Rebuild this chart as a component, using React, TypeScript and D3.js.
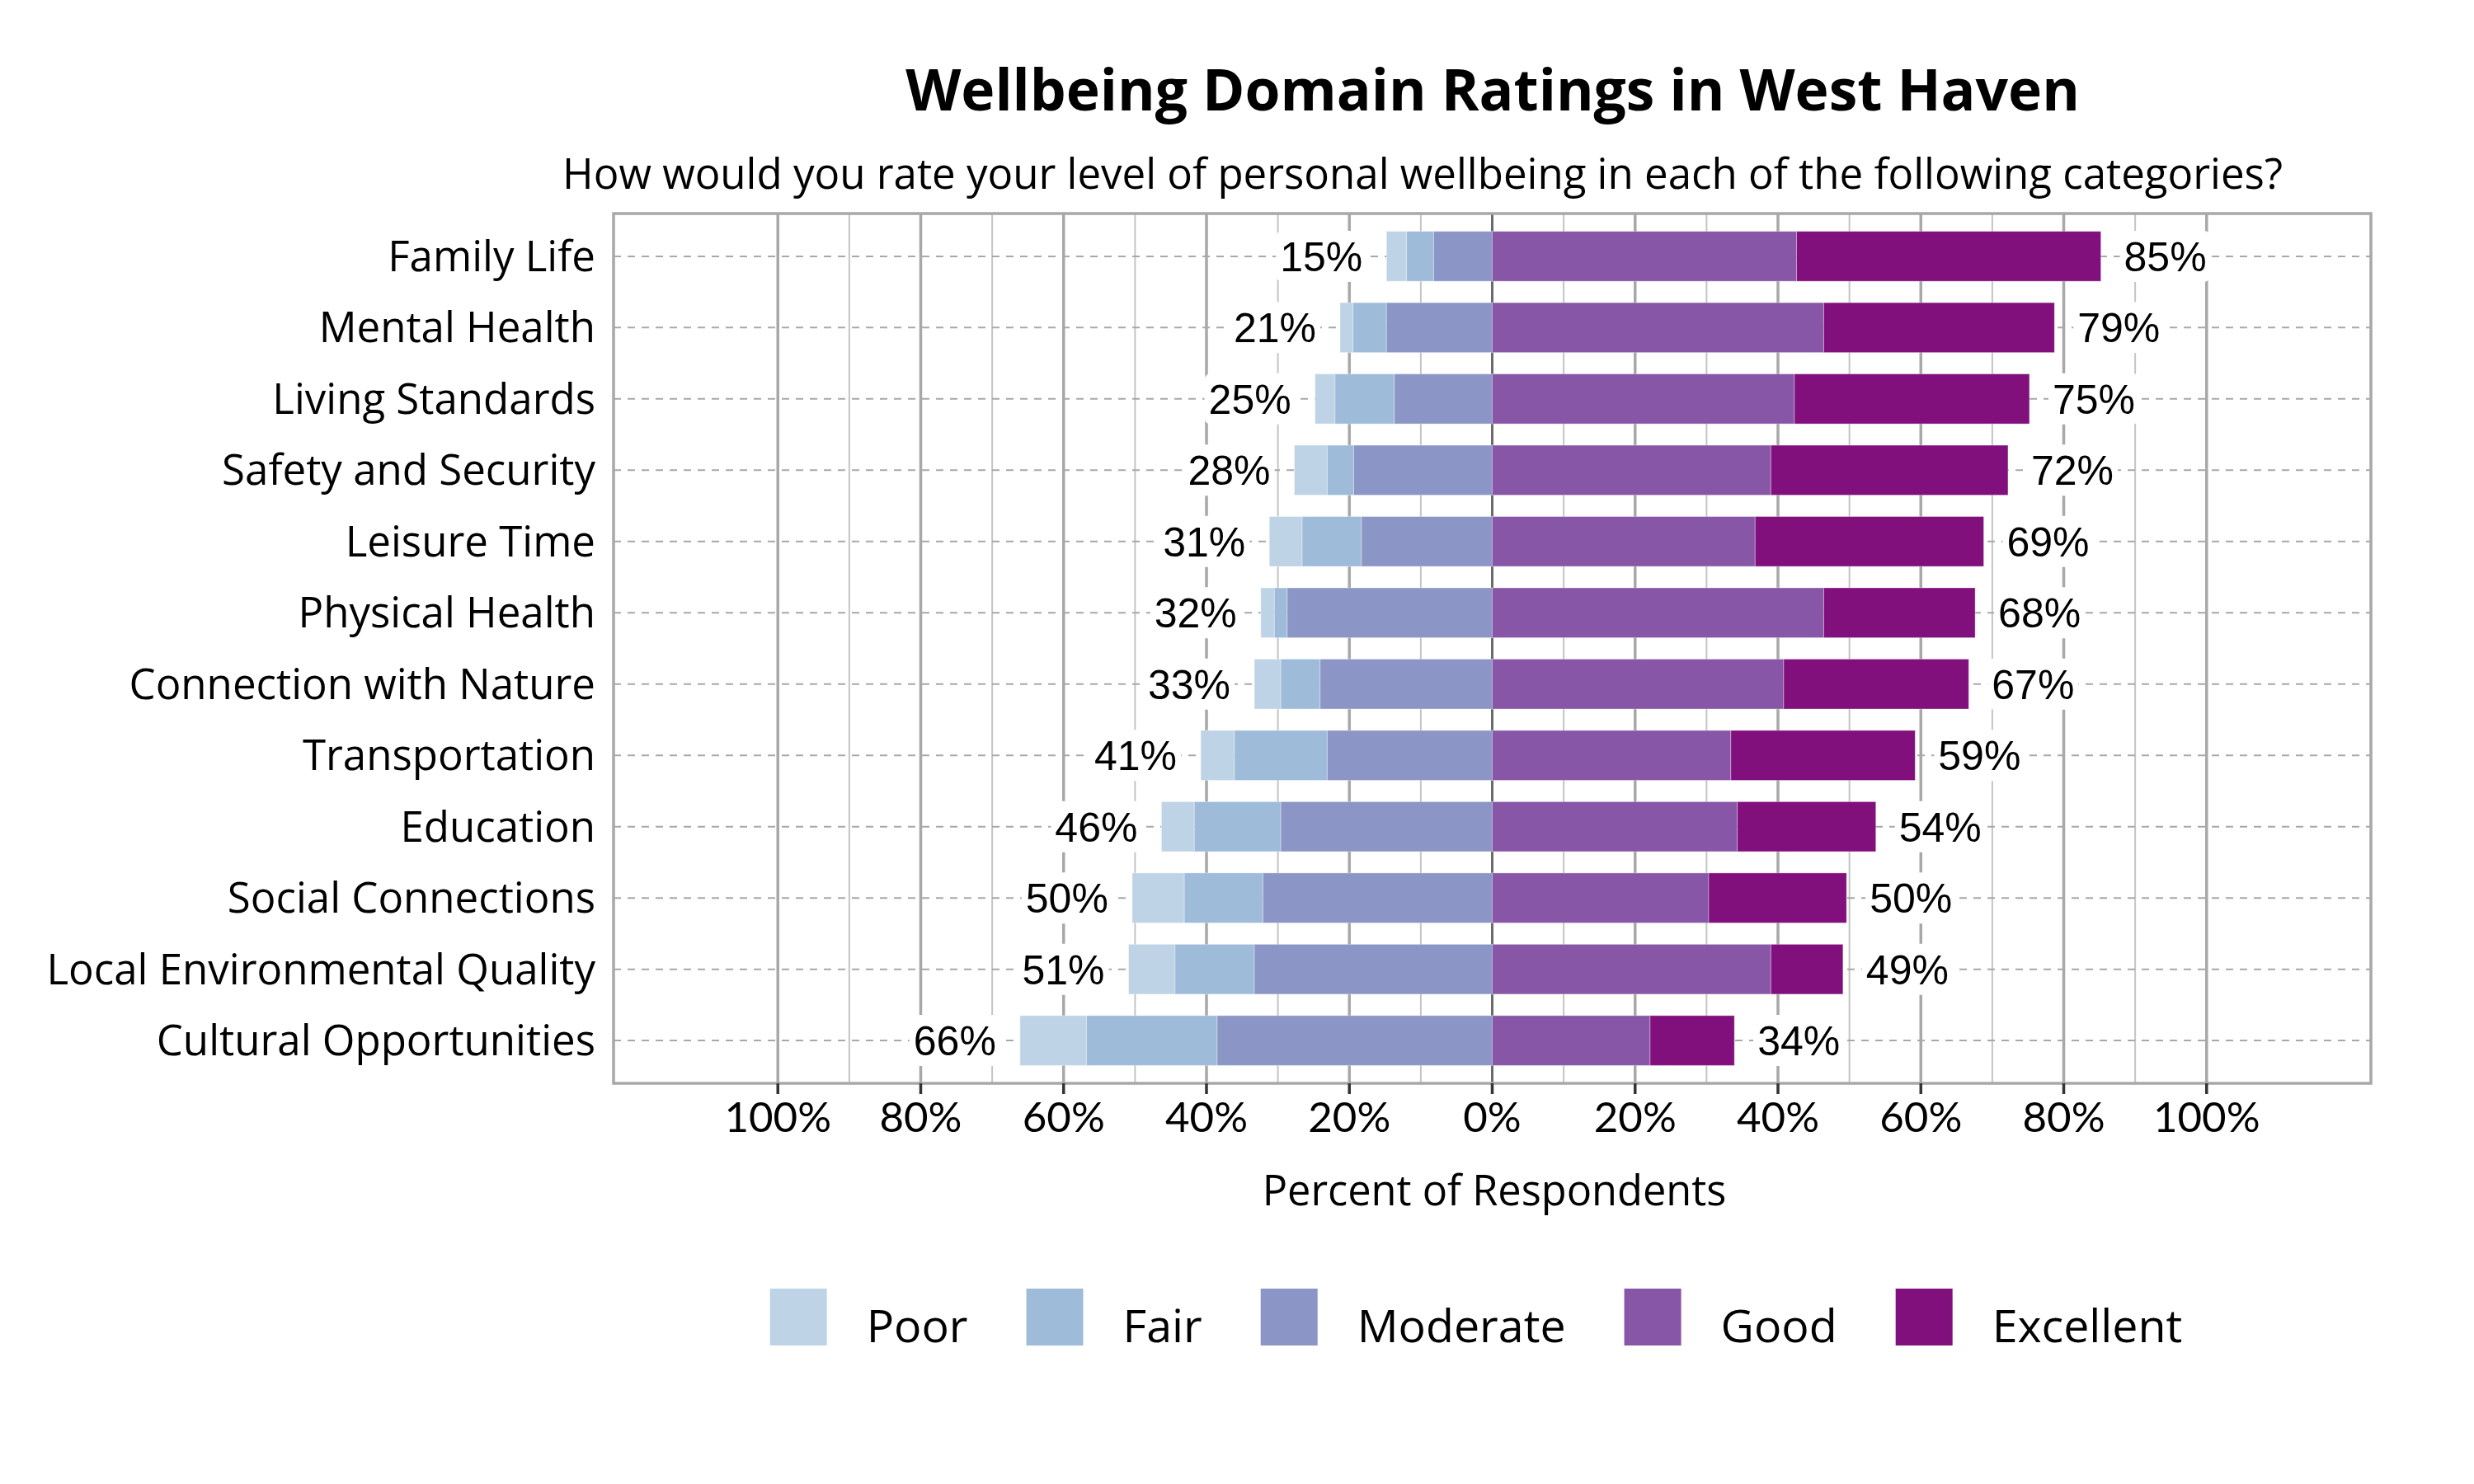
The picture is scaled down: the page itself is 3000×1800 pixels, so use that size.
import React from "react";
import * as d3 from "d3";

const categories = [
  "Family Life",
  "Mental Health",
  "Living Standards",
  "Safety and Security",
  "Leisure Time",
  "Physical Health",
  "Connection with Nature",
  "Transportation",
  "Education",
  "Social Connections",
  "Local Environmental Quality",
  "Cultural Opportunities",
];
const poor = [2.8, 1.8, 2.8, 4.6, 4.6, 1.9, 3.7, 4.7, 4.6, 7.3, 6.5, 9.3];
const fair = [3.8, 4.7, 8.3, 3.7, 8.3, 1.8, 5.5, 13.0, 12.1, 11.0, 11.1, 18.3];
const moderate = [8.2, 14.8, 13.7, 19.4, 18.3, 28.7, 24.1, 23.1, 29.6, 32.1, 33.3, 38.5];
const good = [42.6, 46.4, 42.3, 39.0, 36.8, 46.4, 40.8, 33.4, 34.3, 30.3, 39.0, 22.1];
const excellent = [42.6, 32.3, 32.9, 33.2, 32.0, 21.2, 25.9, 25.8, 19.4, 19.3, 10.1, 11.8];

const legendLabels = ["Poor", "Fair", "Moderate", "Good", "Excellent"];
const colors = ["#bfd3e6", "#9ebcda", "#8c96c6", "#8856a7", "#810f7c"];
const majorTicks = [-100, -80, -60, -40, -20, 0, 20, 40, 60, 80, 100];
const minorTicks = [-90, -70, -50, -30, -10, 10, 30, 50, 70, 90];

const W = 3000;
const H = 1800;
const plot = { left: 744, right: 2875, top: 259, bottom: 1314 };

const LABEL_FONT = "'Liberation Sans', Arial, sans-serif";
const MAIN_FONT = "'Open Sans', Lato, sans-serif";
const TICK_FONT = "Lato, 'Open Sans', sans-serif";

let ctx: CanvasRenderingContext2D | null = null;
function measure(text: string, font: string): number {
  if (!ctx) ctx = document.createElement("canvas").getContext("2d");
  if (!ctx) return text.length * 25;
  ctx.font = font;
  return ctx.measureText(text).width;
}

export default function App() {
  const x = d3.scaleLinear().domain([-123, 123]).range([plot.left, plot.right]);
  const y = d3.scaleLinear().domain([0.4, 12.6]).range([plot.top, plot.bottom]);
  const barH = y(0.7) - y(0);

  const rows = categories.map((c, i) => {
    const m = moderate[i];
    const f = fair[i];
    const p = poor[i];
    const g = good[i];
    const e = excellent[i];
    const segs = [
      { x0: -(m + f), x1: -(m + f + p), color: colors[0] },
      { x0: -m, x1: -(m + f), color: colors[1] },
      { x0: 0, x1: -m, color: colors[2] },
      { x0: 0, x1: g, color: colors[3] },
      { x0: g, x1: g + e, color: colors[4] },
    ];
    return { c, i, cy: y(i + 1), segs, neg: m + f + p, pos: g + e };
  });

  const labelFontSize = 50;
  const labelFont = `${labelFontSize}px ${LABEL_FONT}`;

  // legend layout
  const legendFontSize = 55.5;
  const legendFont = `${legendFontSize}px ${MAIN_FONT}`;
  const keySize = 69;
  const keyGap = 48;
  const itemGap = 71;
  const widths = legendLabels.map((l) => measure(l, legendFont));
  const total =
    widths.reduce((a, b) => a + b + keySize + keyGap, 0) + itemGap * (legendLabels.length - 1);
  let lx = 1790 - total / 2;
  const legendItems = legendLabels.map((l, k) => {
    const item = { l, k, x: lx };
    lx += keySize + keyGap + widths[k] + itemGap;
    return item;
  });
  const legendTop = 1563;

  return (
    <svg
      width={W}
      height={H}
      style={{ position: "absolute", left: 0, top: 0, background: "#fff" }}
    >
      <rect x={0} y={0} width={W} height={H} fill="#fff" />
      {/* title */}
      <text
        x={1810}
        y={134}
        textAnchor="middle"
        fontFamily={MAIN_FONT}
        fontWeight={700}
        fontSize={69.5}
        fill="#000"
      >
        Wellbeing Domain Ratings in West Haven
      </text>
      <text x={1725} y={229} textAnchor="middle" fontFamily={MAIN_FONT} fontSize={51} fill="#000">
        How would you rate your level of personal wellbeing in each of the following categories?
      </text>

      {/* grid */}
      {minorTicks.map((t) => (
        <line key={"mi" + t} x1={x(t)} x2={x(t)} y1={plot.top} y2={plot.bottom} stroke="#c4c4c4" strokeWidth={2} />
      ))}
      {majorTicks
        .filter((t) => t !== 0)
        .map((t) => (
          <line key={"ma" + t} x1={x(t)} x2={x(t)} y1={plot.top} y2={plot.bottom} stroke="#a8a8a8" strokeWidth={3.5} />
        ))}
      {rows.map((r) => (
        <line
          key={"h" + r.i}
          x1={plot.left}
          x2={plot.right}
          y1={r.cy}
          y2={r.cy}
          stroke="#a8a8a8"
          strokeWidth={2}
          strokeDasharray="9,8"
        />
      ))}
      <line x1={x(0)} x2={x(0)} y1={plot.top} y2={plot.bottom} stroke="#6a6a6a" strokeWidth={3} />

      {/* bars */}
      {rows.map((r) =>
        r.segs.map((s, k) => (
          <rect
            key={"b" + r.i + "-" + k}
            x={Math.min(x(s.x0), x(s.x1))}
            width={Math.abs(x(s.x1) - x(s.x0))}
            y={r.cy - barH / 2}
            height={barH}
            fill={s.color}
            stroke="#ffffff"
            strokeOpacity={0.35}
            strokeWidth={1}
          />
        ))
      )}

      {/* border */}
      <rect
        x={plot.left}
        y={plot.top}
        width={plot.right - plot.left}
        height={plot.bottom - plot.top}
        fill="none"
        stroke="#a8a8a8"
        strokeWidth={3.5}
      />

      {/* value labels */}
      {rows.map((r) => {
        const negText = `${Math.round(r.neg)}%`;
        const posText = `${Math.round(r.pos)}%`;
        const nw = measure(negText, labelFont);
        const pw = measure(posText, labelFont);
        const nRight = x(-r.neg) - 29;
        const pLeft = x(r.pos) + 28;
        return (
          <g key={"l" + r.i}>
            <rect x={nRight - nw - 5} y={r.cy - 31} width={nw + 10} height={62} rx={8} fill="#fff" />
            <text
              x={nRight}
              y={r.cy + 18}
              textAnchor="end"
              fontFamily={LABEL_FONT}
              fontSize={labelFontSize}
              fill="#000"
            >
              {negText}
            </text>
            <rect x={pLeft - 5} y={r.cy - 31} width={pw + 10} height={62} rx={8} fill="#fff" />
            <text x={pLeft} y={r.cy + 18} fontFamily={LABEL_FONT} fontSize={labelFontSize} fill="#000">
              {posText}
            </text>
          </g>
        );
      })}

      {/* y labels */}
      {rows.map((r) => (
        <text
          key={"c" + r.i}
          x={plot.left - 22}
          y={r.cy + 18}
          textAnchor="end"
          fontFamily={MAIN_FONT}
          fontSize={51}
          fill="#000"
        >
          {r.c}
        </text>
      ))}

      {/* x ticks */}
      {majorTicks.map((t) => (
        <g key={"t" + t}>
          <line x1={x(t)} x2={x(t)} y1={plot.bottom} y2={plot.bottom + 13} stroke="#333" strokeWidth={3.5} />
          <text x={x(t)} y={1373} textAnchor="middle" fontFamily={TICK_FONT} fontSize={51} fill="#000">
            {`${Math.abs(t)}%`}
          </text>
        </g>
      ))}
      <text x={1812} y={1462} textAnchor="middle" fontFamily={MAIN_FONT} fontSize={50.5} fill="#000">
        Percent of Respondents
      </text>

      {/* legend */}
      {legendItems.map((it) => (
        <g key={"lg" + it.k}>
          <rect x={it.x} y={legendTop} width={keySize} height={keySize} fill={colors[it.k]} />
          <text
            x={it.x + keySize + keyGap}
            y={1628}
            fontFamily={MAIN_FONT}
            fontSize={legendFontSize}
            fill="#000"
          >
            {it.l}
          </text>
        </g>
      ))}
    </svg>
  );
}
